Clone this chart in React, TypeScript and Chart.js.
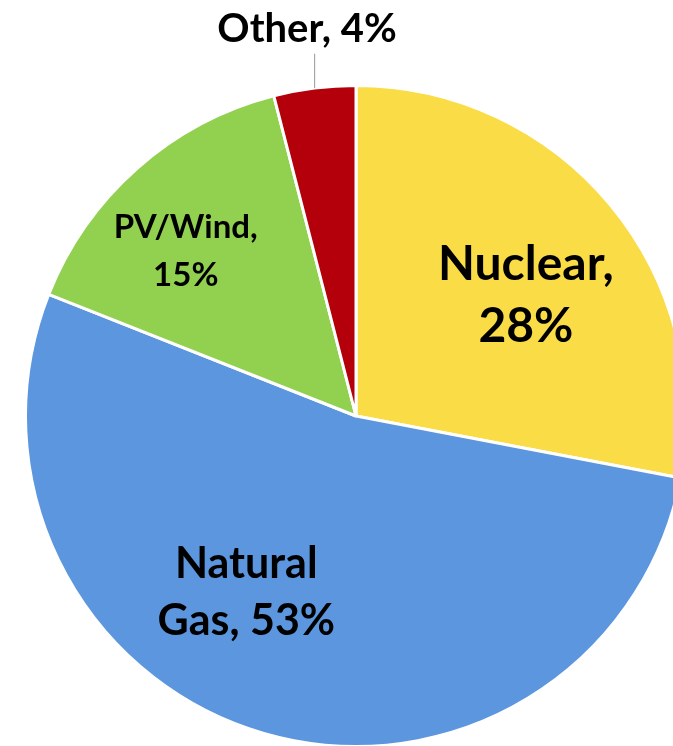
import React, { useEffect, useRef } from "react";
import { Chart, registerables } from "chart.js";

Chart.register(...registerables);

const categories = ["Nuclear", "Natural Gas", "PV/Wind", "Other"];
const shares = [28, 53, 15, 4];
const colors = ["#FADC46", "#5B96DE", "#92D050", "#B4000B"];
// label lines per slice
const labelLines = [["Nuclear,", "28%"], ["Natural", "Gas, 53%"], ["PV/Wind,", "15%"], ["Other, 4%"]];
const labelSizes = [48, 43, 33, 40];
const labelRadial = [0.63, 0.628, 0.716, 1.181];
const labelAngleShift = [4.3, 15.7, -4.6, 0];
const labelLineGap = [62, 57, 48, 0];

const labelPlugin = {
  id: "pieLabels",
  afterDatasetsDraw(chart: any) {
    const meta = chart.getDatasetMeta(0);
    const ctx = chart.ctx;
    ctx.save();
    meta.data.forEach((arc: any, i: number) => {
      const mid = (arc.startAngle + arc.endAngle) / 2 + (labelAngleShift[i] * Math.PI) / 180;
      const r = arc.outerRadius * labelRadial[i];
      const cx = arc.x + Math.cos(mid) * r;
      const cy = arc.y + Math.sin(mid) * r;
      ctx.font = `bold ${labelSizes[i]}px Lato, "Open Sans", sans-serif`;
      ctx.fillStyle = "#000";
      ctx.textAlign = "center";
      ctx.textBaseline = "middle";
      const lines = labelLines[i];
      const gap = labelLineGap[i];
      lines.forEach((ln, k) => {
        const y = cy + (k - (lines.length - 1) / 2) * gap;
        ctx.fillText(ln, cx, y);
      });
      if (i === 3) {
        const edgeAng = (arc.startAngle + arc.endAngle) / 2;
        const ex = arc.x + Math.cos(edgeAng) * arc.outerRadius;
        const ey = arc.y + Math.sin(edgeAng) * arc.outerRadius;
        ctx.strokeStyle = "#A6A6A6";
        ctx.lineWidth = 1.2;
        ctx.beginPath();
        ctx.moveTo(ex, ey);
        ctx.lineTo(ex, cy + 25);
        ctx.stroke();
      }
    });
    ctx.restore();
  },
};

export default function App() {
  const ref = useRef<HTMLCanvasElement>(null);
  useEffect(() => {
    if (!ref.current) return;
    const chart = new Chart(ref.current, {
      type: "pie",
      data: {
        labels: categories,
        datasets: [
          {
            data: shares,
            backgroundColor: colors,
            borderColor: "#FFFFFF",
            borderWidth: 3,
            hoverOffset: 0,
          },
        ],
      },
      options: {
        responsive: false,
        animation: false,
        layout: { padding: { left: 24, top: 84, right: 72, bottom: 52 } },
        plugins: { legend: { display: false }, tooltip: { enabled: false } },
      },
      plugins: [labelPlugin],
    });
    return () => chart.destroy();
  }, []);
  return (
    <div style={{ position: "fixed", inset: 0, overflow: "hidden", background: "#fff" }}>
      <canvas
        ref={ref}
        width={760}
        height={800}
        style={{ position: "absolute", left: 0, top: 0, width: 760, height: 800 }}
      />
    </div>
  );
}
